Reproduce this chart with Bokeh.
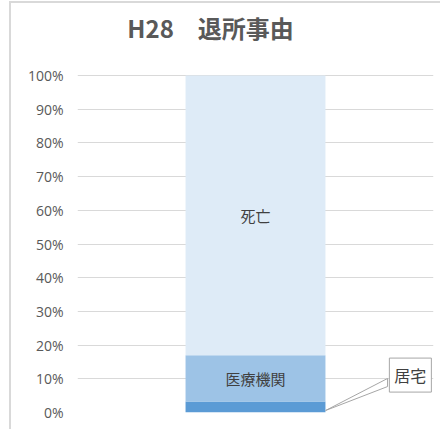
from bokeh.plotting import figure
from bokeh.models import ColumnDataSource, NumeralTickFormatter, FixedTicker, Label, Range1d
from bokeh.core.properties import value
from bokeh.embed import file_html
from bokeh.resources import INLINE

categories = ["居宅", "医療機関", "死亡"]
shares = [0.033, 0.137, 0.830]
colors = ["#5B9BD5", "#9DC3E6", "#DEEBF7"]
y_ticks = [0, 0.1, 0.2, 0.3, 0.4, 0.5, 0.6, 0.7, 0.8, 0.9, 1.0]
title_text = "H28\u3000退所事由"

JP = "Noto Sans CJK JP"

p = figure(width=431, height=428, output_backend="svg", toolbar_location=None,
           x_range=Range1d(0, 1), y_range=Range1d(0, 407 / 337),
           min_border_left=66, min_border_right=9, min_border_bottom=19, min_border_top=2)
p.margin = (1, 0, 0, 9)
p.styles = {"border-left": "2px solid #D9D9D9", "border-top": "2px solid #D9D9D9"}

p.add_layout(Label(x=0.14, y=1.142, text=title_text, text_font=JP, text_font_size="24px",
                   text_font_style="bold", text_color="#595959",
                   text_align="left", text_baseline="middle"))

src = ColumnDataSource(dict(x=[0.5], **{c: [v] for c, v in zip(categories, shares)}))
p.vbar_stack(categories, x="x", width=0.393, source=src, color=colors, line_color=None)

# data labels
cum = 0.0
centers = []
for v in shares:
    centers.append(cum + v / 2)
    cum += v
lab_src = ColumnDataSource(dict(x=[0.5, 0.5], y=centers[1:], t=categories[1:]))
p.text(x="x", y="y", text="t", source=lab_src, text_font=value(JP), text_font_size="15px",
       text_color="#404040", text_align="center", text_baseline="middle")

# callout for 居宅
bx, by = 0.935, 0.111
p.patch(x=[0.697, 0.871, 0.871], y=[0.006, 0.101, 0.077],
        fill_color="white", line_color="#A6A6A6", line_width=1)
p.add_layout(Label(x=bx, y=by, text=categories[0], text_font=JP, text_font_size="16px",
                   text_color="#404040", text_align="center", text_baseline="middle",
                   border_line_color="#A6A6A6", background_fill_color="white", padding=5))

p.xaxis.visible = False
p.yaxis.ticker = FixedTicker(ticks=y_ticks)
p.yaxis.formatter = NumeralTickFormatter(format="0%")
p.yaxis.axis_line_color = None
p.yaxis.major_tick_line_color = None
p.yaxis.minor_tick_line_color = None
p.yaxis.major_label_text_font = "Open Sans"
p.yaxis.major_label_text_font_size = "14px"
p.yaxis.major_label_text_color = "#595959"
p.yaxis.major_label_standoff = 8
p.xgrid.visible = False
p.ygrid.grid_line_color = "#D9D9D9"
p.outline_line_color = None

open("out.html", "w").write(file_html(p, INLINE))
